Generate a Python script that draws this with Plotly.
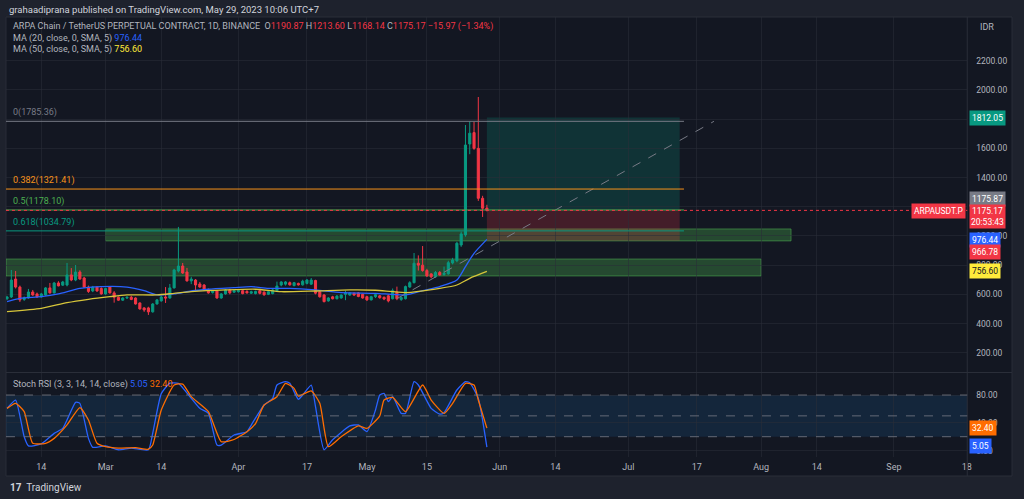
import datetime as dt
import pandas as pd
import plotly.graph_objects as go

W, H = 1024, 499

# ---- data ----
start = "2023-02-06"

opens = [570, 582, 705, 650, 565, 575, 616, 603, 582, 596,
         644, 610, 678, 663, 664, 733, 698, 753, 712, 650,
         623, 650, 640, 603, 650, 610, 580, 560, 575, 580,
         575, 541, 507, 507, 480, 534, 555, 582, 575, 644,
         760, 794, 753, 692, 698, 671, 664, 630, 612, 623,
         575, 603, 630, 615, 618, 625, 620, 608, 605, 625,
         615, 600, 605, 625, 664, 670, 680, 660, 675, 665,
         675, 670, 695, 618, 596, 555, 583, 570, 575, 600,
         595, 608, 610, 600, 584, 562, 584, 590, 580, 590,
         570, 615, 565, 570, 650, 680, 813, 800, 763, 740,
         720, 750, 735, 740, 815, 830, 938, 1007, 1630, 1708,
         1600, 1258, 1190.87]
highs = [590, 767, 760, 660, 585, 637, 630, 612, 610, 650,
         678, 685, 690, 692, 815, 780, 801, 765, 720, 660,
         658, 655, 648, 645, 655, 622, 585, 580, 585, 590,
         580, 545, 512, 515, 540, 568, 590, 650, 671, 775,
         1062, 815, 781, 720, 705, 685, 670, 640, 630, 630,
         608, 636, 638, 632, 630, 630, 628, 625, 625, 632,
         620, 625, 640, 687, 690, 691, 688, 685, 680, 700,
         705, 712, 700, 622, 600, 580, 590, 595, 600, 625,
         615, 612, 615, 605, 590, 590, 605, 595, 585, 600,
         640, 653, 585, 660, 690, 883, 867, 931, 775, 745,
         760, 760, 790, 830, 850, 960, 1030, 1760, 1785.36, 1783,
         1952, 1275, 1213.60]
lows = [560, 575, 640, 548, 555, 570, 590, 575, 578, 590,
        605, 605, 655, 658, 655, 690, 690, 700, 645, 610,
        615, 618, 598, 598, 605, 543, 555, 555, 568, 560,
        530, 495, 480, 459, 475, 530, 550, 541, 570, 640,
        750, 740, 688, 670, 625, 645, 625, 605, 605, 570,
        570, 598, 600, 610, 612, 600, 605, 602, 600, 600,
        590, 595, 600, 620, 655, 660, 660, 655, 660, 660,
        668, 665, 600, 578, 545, 550, 565, 565, 570, 560,
        590, 590, 580, 570, 555, 558, 575, 570, 560, 545,
        565, 560, 555, 565, 645, 675, 763, 755, 720, 710,
        715, 728, 728, 735, 805, 820, 925, 995, 1560, 1590,
        1240, 1130, 1168.14]
closes = [582, 698, 650, 562, 575, 616, 596, 582, 603, 644,
          610, 678, 658, 685, 733, 698, 753, 705, 650, 620,
          650, 623, 603, 640, 610, 580, 560, 575, 580, 565,
          534, 500, 493, 480, 534, 562, 582, 575, 644, 767,
          794, 746, 692, 705, 664, 650, 630, 610, 625, 575,
          603, 630, 610, 625, 625, 605, 610, 618, 620, 607,
          597, 618, 630, 657, 685, 685, 665, 680, 665, 690,
          698, 698, 608, 583, 550, 575, 570, 588, 595, 610,
          610, 595, 585, 575, 562, 584, 598, 577, 568, 555,
          625, 570, 578, 653, 680, 813, 800, 763, 726, 720,
          750, 733, 745, 817, 835, 950, 1014, 1623, 1704, 1600,
          1258, 1190, 1175.17]

# moving averages (day offset from start, value)
ma20_day = [0, 3, 8, 12, 17, 22, 28, 32, 35, 39, 43, 47, 53, 57, 61, 66, 72, 78,
            86, 93, 97, 101, 105, 107, 109, 112]
ma20_val = [550, 573, 584, 603, 641, 653, 650, 625, 596, 603, 623, 635, 646, 653,
            641, 641, 630, 612, 607, 596, 625, 653, 698, 790, 881, 976.44]
ma50_day = [0, 8, 14, 19, 24, 28, 35, 39, 43, 51, 58, 64, 72, 80, 86, 93, 101,
            105, 108, 112]
ma50_val = [481, 504, 543, 566, 584, 596, 596, 607, 618, 630, 635, 618, 623, 630,
            628, 612, 641, 664, 710, 756.60]

# stoch RSI
k_day = [0, 2, 4, 5, 8, 11, 13, 16, 17, 19, 20, 23, 26, 29, 33, 34, 36, 38, 40,
         43, 45, 47, 49, 50, 53, 56, 57, 60, 62, 63, 65, 66, 68, 69, 71, 72, 74,
         76, 80, 82, 84, 86, 87, 88, 89, 90, 92, 93, 95, 96, 99, 101, 102, 105,
         107, 108, 110, 112]
k_val = [60.8, 72.8, 20, 6.8, 9.6, 24.8, 32, 69.5, 68, 17.6, 4.7, 6.8, 1.2, 3.6,
         1.2, 25, 82, 97, 96.8, 75.2, 60.8, 53.6, 8, 8, 22.4, 27.2, 36.8, 65.6,
         75.2, 94.4, 99.2, 96.8, 73.8, 80, 94.4, 63.2, 1.2, 15.6, 35.6, 37, 27.2,
         58.4, 80, 82.4, 70.4, 77.6, 53.6, 53.6, 99.2, 94.4, 60.8, 52.6, 54.6,
         87.2, 99.2, 97.8, 75, 5.05]
d_day = [0, 2, 4, 6, 9, 11, 14, 17, 19, 21, 23, 26, 30, 33, 34, 36, 39, 41, 43,
         47, 50, 53, 56, 58, 60, 63, 65, 67, 68, 71, 73, 75, 78, 82, 84, 87, 88,
         90, 93, 97, 99, 102, 104, 107, 109, 110, 112]
d_val = [60.8, 68, 56, 10.5, 10.5, 17.6, 37, 62, 44, 10.5, 5.6, 3.6, 4.2, 2, 8,
         58.4, 94.4, 95.8, 77.6, 56, 12.8, 16, 27.2, 39, 65.6, 77.6, 96.8, 89.6,
         78.4, 86, 68, 5.6, 20, 35.6, 32, 50, 72.8, 76.6, 56, 94.4, 72.8, 53.6,
         68, 96.8, 94.4, 72.8, 32.40]

# drawings
fib_levels = ["0", "0.382", "0.5", "0.618"]
fib_prices = [1785.36, 1321.41, 1178.10, 1034.79]
fib_colors = ["#787b86", "#f7931a", "#4caf50", "#089981"]
fib_end = "2023-07-14"

zone_start = ["2023-03-01", "2023-02-05 18:00"]
zone_end = ["2023-08-08", "2023-08-01"]
zone_low = [966, 726]
zone_high = [1048, 842]

pos_start, pos_end = "2023-05-29", "2023-07-13"
pos_stop, pos_entry, pos_target = 966.78, 1175.87, 1812.05

trend_dates = ["2023-05-08", "2023-07-21"]
trend_prices = [570.9, 1785.36]

tick_dates = ["2023-02-14", "2023-03-01", "2023-03-14", "2023-04-01", "2023-04-17",
              "2023-05-01", "2023-05-15", "2023-06-01", "2023-06-14", "2023-07-01",
              "2023-07-17", "2023-08-01", "2023-08-14", "2023-09-01", "2023-09-18"]
tick_text = ["14", "Mar", "14", "Apr", "17", "May", "15", "Jun", "14", "Jul",
             "17", "Aug", "14", "Sep", "18"]

price_ticks = list(range(200, 2400, 200))
hidden_ticks = [1200, 1800]   # covered by the price tags on the right scale

# ---- helpers ----
t0 = pd.Timestamp(start)
dates = pd.date_range(start, periods=len(opens), freq="D")


def days(lst):
    return [t0 + dt.timedelta(days=d) for d in lst]


def px(x):
    return x / W


def py(y):
    return 1 - y / H


BG = "#131722"
GRID = "rgba(42,46,57,0.55)"
TXT = "#b2b5be"
UP, DOWN = "#089981", "#f23645"
FONT = "Roboto"

fig = go.Figure()

fig.add_trace(go.Candlestick(
    x=dates, open=opens, high=highs, low=lows, close=closes,
    increasing=dict(line=dict(color=UP, width=1), fillcolor=UP),
    decreasing=dict(line=dict(color=DOWN, width=1), fillcolor=DOWN),
    whiskerwidth=0, showlegend=False, xaxis="x", yaxis="y"))

fig.add_trace(go.Scatter(x=days(ma20_day), y=ma20_val, mode="lines",
                         line=dict(color="#2962ff", width=1.3, shape="spline", smoothing=0.6),
                         showlegend=False, xaxis="x", yaxis="y"))
fig.add_trace(go.Scatter(x=days(ma50_day), y=ma50_val, mode="lines",
                         line=dict(color="#d6c53a", width=1.3, shape="spline", smoothing=0.6),
                         showlegend=False, xaxis="x", yaxis="y"))
fig.add_trace(go.Scatter(x=trend_dates, y=trend_prices, mode="lines",
                         line=dict(color="#787b86", width=1, dash="dash"),
                         showlegend=False, xaxis="x", yaxis="y"))

fig.add_trace(go.Scatter(x=days(k_day), y=k_val, mode="lines",
                         line=dict(color="#2962ff", width=1.3, shape="spline", smoothing=0.5),
                         showlegend=False, xaxis="x2", yaxis="y2"))
fig.add_trace(go.Scatter(x=days(d_day), y=d_val, mode="lines",
                         line=dict(color="#ff6d00", width=1.3, shape="spline", smoothing=0.5),
                         showlegend=False, xaxis="x2", yaxis="y2"))

shapes = []
# chart frame
shapes.append(dict(type="rect", xref="paper", yref="paper", x0=px(6), x1=px(1017),
                   y0=py(476), y1=py(17), fillcolor=BG, line=dict(color="#2a2e39", width=1),
                   layer="below"))
shapes.append(dict(type="line", xref="paper", yref="paper", x0=px(972), x1=px(972),
                   y0=py(476), y1=py(17), line=dict(color="#2a2e39", width=1)))
shapes.append(dict(type="line", xref="paper", yref="paper", x0=px(6), x1=px(1017),
                   y0=py(372.5), y1=py(372.5), line=dict(color="#2a2e39", width=1)))

# supply/demand zones
for xs, xe, lo, hi in zip(zone_start, zone_end, zone_low, zone_high):
    shapes.append(dict(type="rect", xref="x", yref="y", x0=xs, x1=xe, y0=lo, y1=hi,
                       fillcolor="rgba(76,175,80,0.33)",
                       line=dict(color="rgba(76,175,80,0.55)", width=1), layer="below"))

# long position
shapes.append(dict(type="rect", xref="x", yref="y", x0=pos_start, x1=pos_end,
                   y0=pos_entry, y1=pos_target, fillcolor="rgba(8,153,129,0.22)",
                   line=dict(width=0), layer="below"))
shapes.append(dict(type="rect", xref="x", yref="y", x0=pos_start, x1=pos_end,
                   y0=pos_stop, y1=pos_entry, fillcolor="rgba(242,54,69,0.22)",
                   line=dict(width=0), layer="below"))

# fib levels
for p, c in zip(fib_prices, fib_colors):
    shapes.append(dict(type="line", xref="x", yref="y", x0="2023-02-05 18:00", x1=fib_end,
                       y0=p, y1=p, line=dict(color=c, width=1)))

# last price line
shapes.append(dict(type="line", xref="x domain", yref="y", x0=0, x1=1,
                   y0=closes[-1], y1=closes[-1], line=dict(color=DOWN, width=1, dash="dot")))

# stoch RSI band
shapes.append(dict(type="rect", xref="x2 domain", yref="y2", x0=0, x1=1, y0=20, y1=80,
                   fillcolor="rgba(33,150,243,0.12)", line=dict(width=0), layer="below"))
for lvl in [80, 50, 20]:
    shapes.append(dict(type="line", xref="x2 domain", yref="y2", x0=0, x1=1, y0=lvl, y1=lvl,
                       line=dict(color="rgba(120,123,134,0.8)", width=1, dash="dash")))

ann = []


def label(x, y, text, color=TXT, size=9, **kw):
    ann.append(dict(x=px(x), y=py(y), xref="paper", yref="paper", text=text, showarrow=False,
                    xanchor=kw.pop("xanchor", "left"), yanchor="middle",
                    font=dict(color=color, size=size, family=FONT), **kw))


label(7, 9, "grahaadiprana published on TradingView.com, May 29, 2023 10:06 UTC+7",
      color="#d1d4dc", size=9.5)
red = DOWN
label(11, 27, "ARPA Chain / TetherUS PERPETUAL CONTRACT, 1D, BINANCE  "
      f"O<span style='color:{red}'>1190.87</span> H<span style='color:{red}'>1213.60</span> "
      f"L<span style='color:{red}'>1168.14</span> C<span style='color:{red}'>1175.17</span> "
      f"<span style='color:{red}'>−15.97 (−1.34%)</span>", size=9)
label(11, 39, "MA (20, close, 0, SMA, 5) <span style='color:#2962ff'>976.44</span>", size=9)
label(11, 50, "MA (50, close, 0, SMA, 5) <span style='color:#ffeb3b'>756.60</span>", size=9)
label(11, 384, "Stoch RSI (3, 3, 14, 14, close) <span style='color:#2962ff'>5.05</span> "
      "<span style='color:#ff6d00'>32.40</span>", size=9)
label(983, 27, "IDR", size=9)
label(8, 487, "<b>17</b>  TradingView", color="#d1d4dc", size=10)

for lv, p, c in zip(fib_levels, fib_prices, fib_colors):
    ann.append(dict(x=px(11), y=p, xref="paper", yref="y", text=f"{lv}({p:.2f})",
                    showarrow=False, xanchor="left", yanchor="bottom", yshift=1,
                    font=dict(color=c, size=9, family=FONT)))

# right scale price tags
tags = [(118, "1812.05", "#089981", "white"),
        (199, "1175.87", "#787b86", "white"),
        (240, "976.44", "#2962ff", "white"),
        (252, "966.78", DOWN, "white"),
        (271, "756.60", "#ffeb3b", "#131722"),
        (428, "32.40", "#ff6d00", "white"),
        (446, "5.05", "#2962ff", "white")]
for y, t, bg, fc in tags:
    label(974, y, t, color=fc, size=8.5, bgcolor=bg, borderpad=2)
label(974, 216, "1175.17<br>20:53:43", color="white", size=8.5, bgcolor=DOWN, borderpad=1)
label(971, 211, "ARPAUSDT.P", color="white", size=8.5, bgcolor=DOWN, borderpad=2,
      xanchor="right")

xdom = [px(6), px(972)]
xrange = ["2023-02-05 18:00", "2023-09-18 03:00"]

fig.update_layout(
    width=W, height=H,
    margin=dict(l=0, r=0, t=0, b=0),
    paper_bgcolor="#1e222d", plot_bgcolor=BG,
    font=dict(family=FONT, color=TXT, size=9),
    showlegend=False,
    shapes=shapes, annotations=ann,
    xaxis=dict(domain=xdom, anchor="y", type="date", range=xrange,
               tickvals=tick_dates, showticklabels=False, showgrid=True, gridcolor=GRID,
               zeroline=False, rangeslider=dict(visible=False), fixedrange=True),
    xaxis2=dict(domain=xdom, anchor="y2", type="date", range=xrange, matches="x",
                tickvals=tick_dates, ticktext=tick_text, showgrid=True, gridcolor=GRID,
                zeroline=False, tickfont=dict(color=TXT, size=9, family=FONT),
                ticklabelstandoff=3),
    yaxis=dict(domain=[py(372), py(17)], anchor="x", side="right", range=[68, 2500],
               tickvals=price_ticks,
               ticktext=["" if v in hidden_ticks else f"{v:.2f}" for v in price_ticks],
               showgrid=True, gridcolor=GRID, zeroline=False,
               tickfont=dict(color=TXT, size=8.5, family=FONT), ticklabelstandoff=8),
    yaxis2=dict(domain=[py(457), py(373)], anchor="x2", side="right", range=[-9.2, 111.7],
                tickvals=[0, 40, 80], tickformat=".2f", showgrid=True, gridcolor=GRID,
                zeroline=False, tickfont=dict(color=TXT, size=8.5, family=FONT),
                ticklabelstandoff=8),
)

fig.write_html("out.html", config={"displayModeBar": False},
               post_script="document.body.style.margin='0';"
                           "document.body.style.background='#1e222d';")
